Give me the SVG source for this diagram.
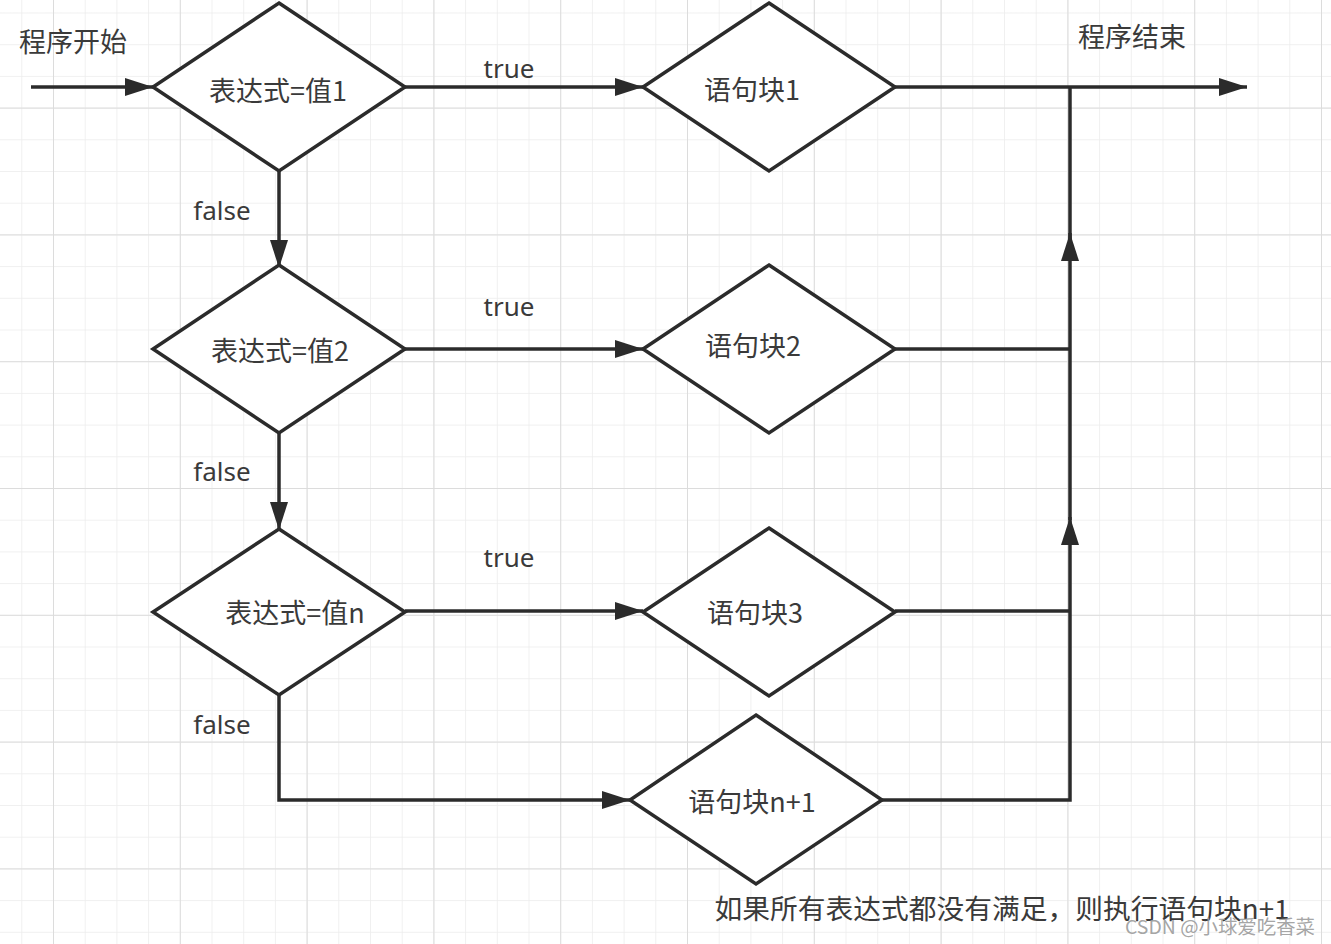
<svg xmlns="http://www.w3.org/2000/svg" width="1331" height="944" viewBox="0 0 1331 944">
<defs>
<pattern id="minor" patternUnits="userSpaceOnUse" x="21.3" y="12.5" width="31.7" height="31.7">
<path d="M0 0H31.7M0 0V31.7" fill="none" stroke="#ececec" stroke-width="1.5"/>
</pattern>
<pattern id="major" patternUnits="userSpaceOnUse" x="53" y="107.6" width="126.8" height="126.8">
<path d="M0 0H126.8M0 0V126.8" fill="none" stroke="#dcdcdc" stroke-width="2"/>
</pattern>
<marker id="arr" markerUnits="userSpaceOnUse" markerWidth="30" markerHeight="22" refX="28" refY="11" orient="auto">
<path d="M0 2L28 11L0 20Z" fill="#2b2b2b"/>
</marker>
</defs>
<style>
.shape{fill:#fff;stroke:#2b2b2b;stroke-width:3.5;stroke-linejoin:miter}
.edge{fill:none;stroke:#2b2b2b;stroke-width:3.5}
.t{font-family:"Noto Sans CJK SC","Noto Sans",sans-serif;font-size:27px;fill:#3a3a3a;dominant-baseline:central;text-anchor:middle}
.l{font-family:"Noto Sans","Noto Sans CJK SC",sans-serif;font-size:26px;fill:#3a3a3a;dominant-baseline:central;text-anchor:middle}
</style>
<rect width="1331" height="944" fill="#fff"/>
<rect width="1331" height="944" fill="url(#minor)"/>
<rect width="1331" height="944" fill="url(#major)"/>

<g id="connectors">
<path class="edge" d="M31 87H153" marker-end="url(#arr)"/>
<path class="edge" d="M405 87H643" marker-end="url(#arr)"/>
<path class="edge" d="M405 349H643" marker-end="url(#arr)"/>
<path class="edge" d="M405 611H643" marker-end="url(#arr)"/>
<path class="edge" d="M279 171V268" marker-end="url(#arr)"/>
<path class="edge" d="M279 433V530" marker-end="url(#arr)"/>
<path class="edge" d="M279 695V800H630" marker-end="url(#arr)"/>
<path class="edge" d="M895 87H1247" marker-end="url(#arr)"/>
<path class="edge" d="M895 349H1070"/>
<path class="edge" d="M895 611H1070"/>
<path class="edge" d="M882 800H1070V517" marker-end="url(#arr)"/>
<path class="edge" d="M1070 520V233" marker-end="url(#arr)"/>
<path class="edge" d="M1070 240V87"/>
</g>

<g id="start-label"><text class="t" x="73" y="40">程序开始</text></g>
<g id="end-label"><text class="t" x="1132" y="35">程序结束</text></g>

<g id="cond1">
<polygon class="shape" points="279,3 405,87 279,171 153,87"/>
<text class="t" x="278" y="89">表达式=值1</text>
</g>
<g id="cond2">
<polygon class="shape" points="279,265 405,349 279,433 153,349"/>
<text class="t" x="280" y="349">表达式=值2</text>
</g>
<g id="cond3">
<polygon class="shape" points="279,529 405,612 279,695 153,612"/>
<text class="t" x="295" y="611">表达式=值n</text>
</g>
<g id="block1">
<polygon class="shape" points="769,3 895,87 769,171 643,87"/>
<text class="t" x="752" y="88">语句块1</text>
</g>
<g id="block2">
<polygon class="shape" points="769,265 895,349 769,433 643,349"/>
<text class="t" x="753" y="344">语句块2</text>
</g>
<g id="block3">
<polygon class="shape" points="769,528 895,612 769,696 643,612"/>
<text class="t" x="755" y="611">语句块3</text>
</g>
<g id="blockn1">
<polygon class="shape" points="756,715 882,800 756,884 630,800"/>
<text class="t" x="752" y="800">语句块n+1</text>
</g>

<g id="edge-labels">
<text class="l" x="509" y="68">true</text>
<text class="l" x="509" y="306">true</text>
<text class="l" x="509" y="557">true</text>
<text class="l" x="222" y="210">false</text>
<text class="l" x="222" y="471">false</text>
<text class="l" x="222" y="724">false</text>
</g>

<g id="note">
<text class="t" x="1002" y="907" textLength="575" lengthAdjust="spacingAndGlyphs">如果所有表达式都没有满足，则执行语句块n+1</text>
</g>
<g id="watermark">
<text x="1220" y="925" font-family="'Noto Sans CJK SC','Noto Sans',sans-serif" font-size="19" fill="#9a9a9a" fill-opacity="0.9" text-anchor="middle" dominant-baseline="central" textLength="190" lengthAdjust="spacingAndGlyphs">CSDN @小球爱吃香菜</text>
</g>
</svg>
